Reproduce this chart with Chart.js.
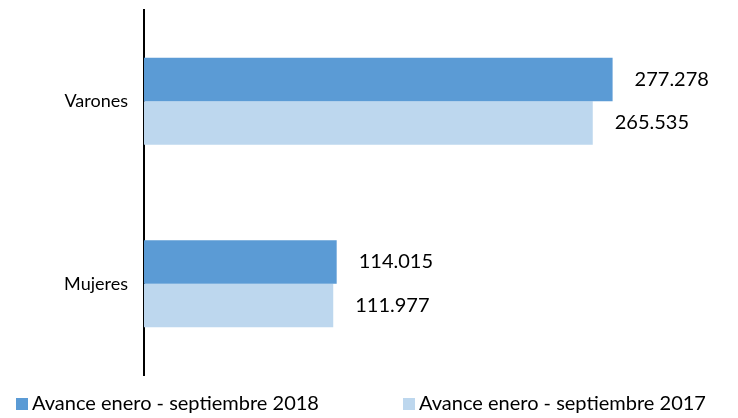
<!DOCTYPE html>
<html>
<head>
<meta charset="utf-8">
<script src="https://cdn.jsdelivr.net/npm/chart.js@4"></script>
<style>
  html, body { margin: 0; padding: 0; background: #fff; }
  #wrap { width: 738px; height: 418px; position: relative; }
</style>
</head>
<body>
<div id="wrap"><canvas id="chart" width="738" height="418"></canvas></div>
<script>
const categories = ["Varones", "Mujeres"];
const seriesNames = ["Avance enero - septiembre 2018", "Avance enero - septiembre 2017"];
const values2018 = [277278, 114015];
const values2017 = [265535, 111977];
const colors = ["#5b9bd5", "#bdd7ee"];

const FONT = "Lato, 'Open Sans', sans-serif";
const FONT_SIZE = 20;

function fmt(v) {
  return v.toString().replace(/\B(?=(\d{3})+(?!\d))/g, ".");
}

// Value labels to the right of each bar
const valueLabels = {
  id: "valueLabels",
  afterDatasetsDraw(chart) {
    const ctx = chart.ctx;
    ctx.save();
    ctx.font = FONT_SIZE + "px " + FONT;
    ctx.fillStyle = "#000";
    ctx.textBaseline = "middle";
    chart.data.datasets.forEach((ds, i) => {
      chart.getDatasetMeta(i).data.forEach((bar, j) => {
        ctx.fillText(fmt(ds.data[j]), bar.x + 22, bar.y);
      });
    });
    ctx.restore();
  },
};

// Bottom legend
const bottomLegend = {
  id: "bottomLegend",
  afterDraw(chart) {
    const ctx = chart.ctx;
    const xs = [16, 403];
    ctx.save();
    ctx.font = FONT_SIZE + "px " + FONT;
    ctx.textBaseline = "middle";
    chart.data.datasets.forEach((ds, i) => {
      ctx.fillStyle = ds.backgroundColor;
      ctx.fillRect(xs[i], 398, 12, 12);
      ctx.fillStyle = "#000";
      ctx.fillText(ds.label, xs[i] + 16, 404);
    });
    ctx.restore();
  },
};

const chart = new Chart(document.getElementById("chart"), {
  type: "bar",
  data: {
    labels: categories,
    datasets: [
      { label: seriesNames[0], data: values2018, backgroundColor: colors[0] },
      { label: seriesNames[1], data: values2017, backgroundColor: colors[1] },
    ],
  },
  options: {
    indexAxis: "y",
    responsive: false,
    animation: false,
    layout: { padding: { top: 10, right: 87, bottom: 43, left: 0 } },
    datasets: { bar: { categoryPercentage: 0.476, barPercentage: 1 } },
    plugins: { legend: { display: false }, tooltip: { enabled: false } },
    scales: {
      x: { display: false, min: 0, max: 300000 },
      y: {
        afterFit(scale) {
          scale.width = 144;
          scale.paddingTop = 0;
          scale.paddingBottom = 0;
        },
        grid: { display: false, drawTicks: false },
        border: { display: true, color: "#000", width: 2 },
        ticks: { color: "#000", padding: 16, font: { family: FONT, size: 18 } },
      },
    },
  },
  plugins: [valueLabels, bottomLegend],
});
</script>
</body>
</html>
